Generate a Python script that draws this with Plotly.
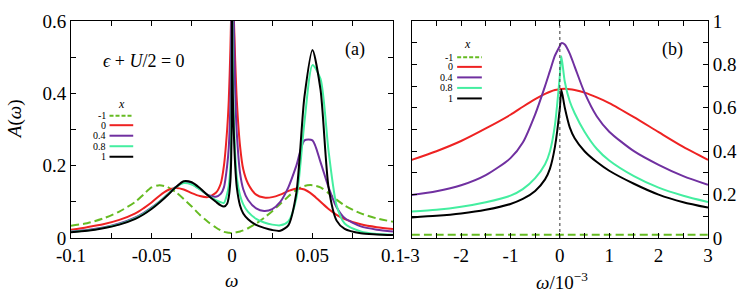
import plotly.graph_objects as go

# ---------------- data: panel (a) ----------------
w_a = [-0.1, -0.09, -0.08, -0.07, -0.06, -0.055, -0.05, -0.045, -0.04, -0.035, -0.03, -0.025,
       -0.02, -0.015, -0.01, -0.007, -0.005, -0.003, -0.002, -0.001, -0.0005, -0.0002, 0.0,
       0.00003, 0.0002, 0.0005, 0.001, 0.002, 0.003, 0.005, 0.007, 0.01, 0.015, 0.02, 0.025,
       0.03, 0.035, 0.04, 0.045, 0.05, 0.055, 0.06, 0.065, 0.07, 0.08, 0.09, 0.1]

A_m1 = [0.034, 0.041, 0.054, 0.073, 0.100, 0.120, 0.140, 0.146, 0.141, 0.127, 0.108, 0.087,
        0.064, 0.045, 0.029, 0.021, 0.017, 0.015, 0.0145, 0.014, 0.014, 0.014, 0.014,
        0.014, 0.014, 0.014, 0.0145, 0.015, 0.016, 0.018, 0.021, 0.027, 0.040, 0.056, 0.074,
        0.094, 0.115, 0.133, 0.144, 0.146, 0.140, 0.124, 0.106, 0.090, 0.068, 0.054, 0.045]

A_0 = [0.023, 0.030, 0.038, 0.050, 0.068, 0.082, 0.098, 0.117, 0.132, 0.138, 0.134, 0.124,
       0.116, 0.113, 0.125, 0.150, 0.200, 0.300, 0.380, 0.520, 0.620, 0.670, 0.690,
       0.690, 0.690, 0.680, 0.630, 0.490, 0.380, 0.255, 0.190, 0.150, 0.120, 0.112, 0.113,
       0.120, 0.130, 0.137, 0.134, 0.120, 0.100, 0.080, 0.064, 0.052, 0.038, 0.030, 0.025]

A_04 = [0.018, 0.022, 0.029, 0.040, 0.057, 0.069, 0.084, 0.101, 0.121, 0.141, 0.154, 0.150,
        0.135, 0.119, 0.114, 0.122, 0.140, 0.200, 0.250, 0.370, 0.580, 0.800, 0.870,
        0.880, 0.890, 0.870, 0.640, 0.400, 0.290, 0.180, 0.135, 0.105, 0.082, 0.075, 0.080,
        0.100, 0.140, 0.200, 0.270, 0.270, 0.210, 0.140, 0.085, 0.055, 0.032, 0.023, 0.018]

A_08 = [0.017, 0.021, 0.028, 0.038, 0.055, 0.067, 0.082, 0.100, 0.120, 0.140, 0.152, 0.148,
        0.135, 0.118, 0.105, 0.099, 0.097, 0.122, 0.144, 0.195, 0.276, 0.400, 0.750,
        0.837, 0.650, 0.490, 0.357, 0.232, 0.166, 0.118, 0.093, 0.072, 0.053, 0.043, 0.037,
        0.035, 0.046, 0.110, 0.320, 0.478, 0.440, 0.240, 0.090, 0.040, 0.018, 0.011, 0.009]

A_1 = [0.016, 0.020, 0.027, 0.037, 0.053, 0.065, 0.080, 0.098, 0.118, 0.140, 0.157, 0.154,
       0.138, 0.118, 0.100, 0.090, 0.087, 0.095, 0.113, 0.157, 0.217, 0.320, 0.600,
       0.683, 0.510, 0.400, 0.310, 0.200, 0.140, 0.090, 0.068, 0.052, 0.036, 0.028, 0.022,
       0.020, 0.035, 0.125, 0.390, 0.520, 0.410, 0.140, 0.048, 0.025, 0.013, 0.010, 0.008]

# ---------------- data: panel (b) ----------------
w_b = [-3.0, -2.5, -2.0, -1.5, -1.0, -0.75, -0.5, -0.3, -0.2, -0.1, 0.0, 0.03, 0.1, 0.2, 0.3,
       0.5, 0.75, 1.0, 1.5, 2.0, 2.5, 3.0]

B_m1 = [0.015] * 22

B_0 = [0.360, 0.400, 0.447, 0.505, 0.568, 0.605, 0.640, 0.664, 0.674, 0.682, 0.686, 0.687, 0.688,
       0.686, 0.682, 0.670, 0.648, 0.622, 0.557, 0.488, 0.420, 0.360]

B_04 = [0.198, 0.215, 0.243, 0.290, 0.368, 0.440, 0.570, 0.700, 0.770, 0.840, 0.885, 0.898, 0.892,
        0.850, 0.790, 0.670, 0.560, 0.490, 0.400, 0.337, 0.285, 0.245]

B_08 = [0.122, 0.130, 0.144, 0.165, 0.195, 0.225, 0.276, 0.340, 0.400, 0.520, 0.750, 0.837, 0.720,
        0.630, 0.575, 0.490, 0.410, 0.357, 0.285, 0.232, 0.195, 0.166]

B_1 = [0.095, 0.102, 0.113, 0.130, 0.157, 0.180, 0.217, 0.270, 0.320, 0.420, 0.600, 0.683, 0.600,
       0.510, 0.460, 0.400, 0.350, 0.310, 0.250, 0.200, 0.165, 0.140]

series_names = ["-1", "0", "0.4", "0.8", "1"]
colors = ["#66bb22", "#ee2222", "#7030a0", "#44eea0", "#000000"]
dashes = ["8px,4px", "solid", "solid", "solid", "solid"]

xticks_a = [-0.1, -0.05, 0, 0.05, 0.1]
xticklabels_a = ["-0.1", "-0.05", "0", "0.05", "0.1"]
yticks_a = [0, 0.2, 0.4, 0.6]
yticklabels_a = ["0", "0.2", "0.4", "0.6"]
xticks_b = [-3, -2, -1, 0, 1, 2, 3]
xticklabels_b = ["-3", "-2", "-1", "0", "1", "2", "3"]
yticks_b = [0, 0.2, 0.4, 0.6, 0.8, 1]
yticklabels_b = ["0", "0.2", "0.4", "0.6", "0.8", "1"]

# ---------------- figure ----------------
W, H = 748, 295
ML, MR, MT, MB = 71, 32, 11, 57
PW, PH = W - ML - MR, H - MT - MB


def px(x):
    return (x - ML) / PW


def py(y):
    return (H - MB - y) / PH


fig = go.Figure()
serif = "Liberation Serif, Times New Roman, Times, serif"

for vals, name, c, d in zip([A_m1, A_0, A_04, A_08, A_1], series_names, colors, dashes):
    fig.add_trace(go.Scatter(x=w_a, y=vals, mode="lines", name=name, xaxis="x", yaxis="y",
                             line=dict(color=c, width=2, dash=d, shape="spline", smoothing=0.7),
                             showlegend=False))
for vals, name, c, d in zip([B_m1, B_0, B_04, B_08, B_1], series_names, colors, dashes):
    fig.add_trace(go.Scatter(x=w_b, y=vals, mode="lines", name=name, xaxis="x2", yaxis="y2",
                             line=dict(color=c, width=2, dash=d, shape="spline", smoothing=0.7),
                             showlegend=False))

axis_common = dict(showline=True, linecolor="black", linewidth=1, mirror="allticks",
                   ticks="inside", ticklen=5, tickwidth=1, tickcolor="black",
                   showgrid=False, zeroline=False,
                   tickfont=dict(family=serif, size=19, color="black"))

fig.update_layout(
    width=W, height=H,
    margin=dict(l=ML, r=MR, t=MT, b=MB),
    paper_bgcolor="white", plot_bgcolor="white",
    font=dict(family=serif, color="black"),
    xaxis=dict(domain=[0, px(397)], range=[-0.1, 0.1], tickvals=xticks_a, ticktext=xticklabels_a,
               minor=dict(dtick=0.025, ticks="inside", ticklen=5, tickcolor="black"),
               anchor="y", **axis_common),
    yaxis=dict(domain=[0, 1], range=[0, 0.6], tickvals=yticks_a, ticktext=yticklabels_a,
               minor=dict(dtick=0.1, ticks="inside", ticklen=5, tickcolor="black"),
               anchor="x", **axis_common),
    xaxis2=dict(domain=[px(416), 1], range=[-3, 3], tickvals=xticks_b, ticktext=xticklabels_b,
                minor=dict(dtick=0.5, ticks="inside", ticklen=5, tickcolor="black"),
                anchor="y2", **axis_common),
    yaxis2=dict(domain=[0, 1], range=[0, 1], tickvals=yticks_b, ticktext=yticklabels_b,
                minor=dict(dtick=0.1, ticks="inside", ticklen=5, tickcolor="black"),
                anchor="x2", side="right", **axis_common),
    showlegend=False,
)

# dotted line at omega = 0 in panel (b)
fig.add_shape(type="line", xref="x2", yref="y2", x0=0, x1=0, y0=0, y1=1,
              line=dict(color="#333333", width=1, dash="dot"))

ann = []


def text(x, y, t, size=19, xanchor="center", textangle=0):
    ann.append(dict(x=px(x), y=py(y), xref="paper", yref="paper", text=t, showarrow=False,
                    xanchor=xanchor, yanchor="middle", textangle=textangle,
                    font=dict(family=serif, size=size, color="black")))


text(15, 114, "<i>A</i>(<i>ω</i>)", textangle=-90)
text(234, 282, "<i>ω</i>")
text(568, 283, "<i>ω</i>/10<sup>−3</sup>")
text(145, 53, "<i>ϵ</i> + <i>U</i>/2 = 0", size=18)
text(359, 41, "(a)", size=18)
text(680, 41, "(b)", size=18)

# custom legends (label left of sample line, gnuplot style)
leg_specs = [
    dict(title=(122, 98), lab_x=108, x0=110, x1=134, rows=[110, 120, 131, 142, 153]),
    dict(title=(472, 35), lab_x=460, x0=462, x1=487, rows=[49, 59, 70, 81, 92]),
]
for spec in leg_specs:
    text(spec["title"][0], spec["title"][1], "<i>x</i>", size=12)
    for name, c, d, ry in zip(series_names, colors, dashes, spec["rows"]):
        text(spec["lab_x"], ry, name, size=10, xanchor="right")
        fig.add_shape(type="line", xref="paper", yref="paper",
                      x0=px(spec["x0"]), x1=px(spec["x1"]), y0=py(ry), y1=py(ry),
                      line=dict(color=c, width=2, dash="4px,2px" if d != "solid" else "solid"))

fig.update_layout(annotations=ann)
fig.write_html("out.html", config={"displayModeBar": False},
               post_script="document.body.style.margin='0';document.body.style.overflow='hidden';")
